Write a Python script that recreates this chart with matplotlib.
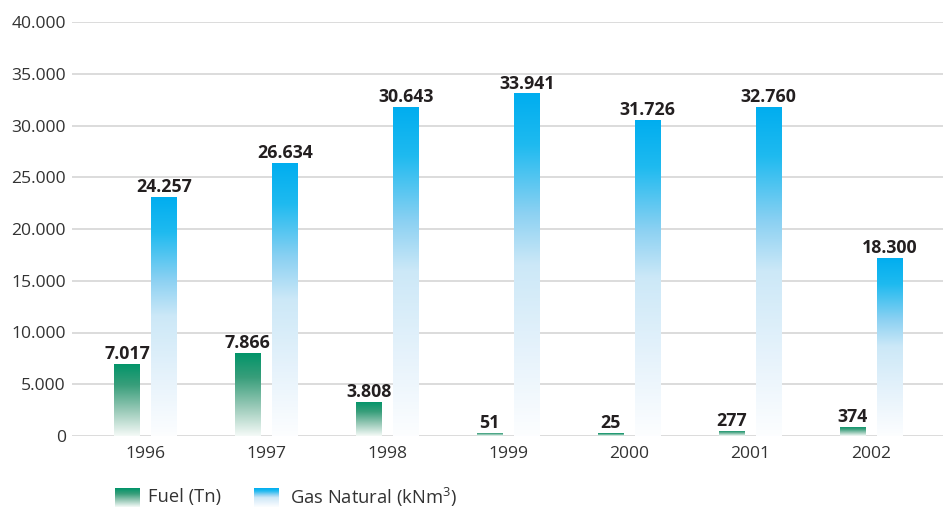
import numpy as np
import matplotlib
matplotlib.use("Agg")
import matplotlib.pyplot as plt
from matplotlib.colors import LinearSegmentedColormap

plt.rcParams['font.family'] = ['Open Sans', 'DejaVu Sans']

# ---- data ----
years = ["1996", "1997", "1998", "1999", "2000", "2001", "2002"]
fuel_heights = [6990, 8030, 3320, 330, 280, 500, 870]          # bar heights
gas_heights = [23140, 26400, 31820, 33100, 30560, 31820, 17240]
fuel_labels = ["7.017", "7.866", "3.808", "51", "25", "277", "374"]
gas_labels = ["24.257", "26.634", "30.643", "33.941", "31.726", "32.760", "18.300"]
yticks = [0, 5000, 10000, 15000, 20000, 25000, 30000, 35000, 40000]
ytick_labels = ["0", "5.000", "10.000", "15.000", "20.000", "25.000", "30.000", "35.000", "40.000"]
legend_names = ["Fuel (Tn)", "Gas Natural (kNm$^{3}$)"]

plt.rcParams['mathtext.fontset'] = 'custom'
plt.rcParams['mathtext.rm'] = 'Open Sans'
plt.rcParams['mathtext.it'] = 'Open Sans'
plt.rcParams['mathtext.default'] = 'regular'

W, H = 943, 507
fig = plt.figure(figsize=(W / 100, H / 100), dpi=100)
ax = fig.add_axes([72 / W, (H - 436) / H, (W - 72) / W, (436 - 22) / H])

fuel_cmap = LinearSegmentedColormap.from_list("fuel", [
    (0.0, (0.96, 0.98, 0.97)),
    (0.35, (0.60, 0.79, 0.72)),
    (0.7, (0.22, 0.62, 0.48)),
    (1.0, (0.0, 0.58, 0.41)),
])
gas_cmap = LinearSegmentedColormap.from_list("gas", [
    (0.0, (0.99, 0.995, 1.0)),
    (0.25, (0.90, 0.95, 0.985)),
    (0.5, (0.80, 0.91, 0.97)),
    (0.65, (0.55, 0.82, 0.95)),
    (0.85, (0.12, 0.73, 0.94)),
    (1.0, (0.0, 0.68, 0.94)),
])

x = np.arange(len(years))
bw = 0.207
off = 0.153
xlim = (-0.608, 6.596)
ylim = (0, 40000)

bars_f = ax.bar(x - off, fuel_heights, width=bw, color='none', zorder=3)
bars_g = ax.bar(x + off, gas_heights, width=bw, color='none', zorder=3)

grad = np.linspace(0, 1, 256).reshape(-1, 1)
for bars, cmap in ((bars_f, fuel_cmap), (bars_g, gas_cmap)):
    for r in bars:
        bx, by, bwid, bh = r.get_x(), r.get_y(), r.get_width(), r.get_height()
        im = ax.imshow(grad, cmap=cmap, origin='lower', aspect='auto',
                       extent=[bx, bx + bwid, by, by + bh], zorder=3,
                       interpolation='bilinear')
        im.set_clip_path(r)

for bars, labels in ((bars_f, fuel_labels), (bars_g, gas_labels)):
    for r, lab in zip(bars, labels):
        ax.annotate(lab, (r.get_x() + r.get_width() / 2, r.get_height()),
                    xytext=(0, 3.5), textcoords='offset points', ha='center',
                    va='baseline', fontsize=12.8, fontweight='bold', color='#231f20')

ax.set_xlim(*xlim)
ax.set_ylim(*ylim)
ax.set_yticks(yticks)
ax.set_yticklabels(ytick_labels)
ax.set_xticks(x)
ax.set_xticklabels(years)
ax.tick_params(axis='both', length=0, labelsize=12.6, labelcolor='#333333')
ax.tick_params(axis='y', pad=4.5)
ax.tick_params(axis='x', pad=7)
for s in ax.spines.values():
    s.set_visible(False)
ax.grid(axis='y', color='#dcdcdc', linewidth=1.4, zorder=0)
ax.set_axisbelow(True)

# legend (manual swatches)
for (x0, cmap, name, tx) in ((115, fuel_cmap, legend_names[0], 148),
                             (254, gas_cmap, legend_names[1], 290)):
    lax = fig.add_axes([x0 / W, 0 / H, 25 / W, 19 / H])
    lax.imshow(grad, cmap=cmap, origin='lower', aspect='auto',
               extent=[0, 1, 0, 1], interpolation='bilinear')
    lax.set_axis_off()
    fig.text(tx / W, (H - 497) / H, name, ha='left', va='center',
             fontsize=13.2, color='#333333')

fig.savefig("out.png", dpi=100)
